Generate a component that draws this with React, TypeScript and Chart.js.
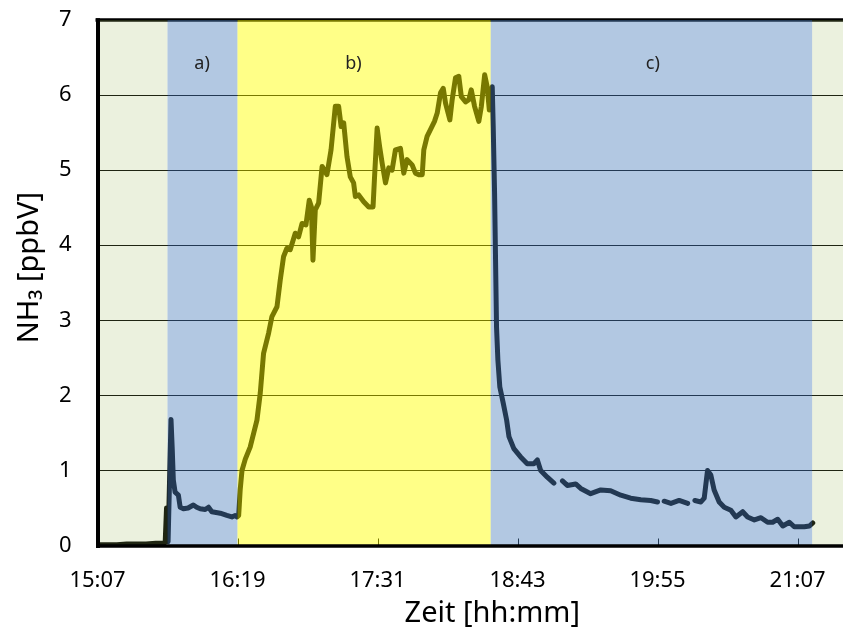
import React, { useEffect, useRef } from 'react';
import { Chart, registerables } from 'chart.js';

Chart.register(...registerables);

// time axis: minutes after 15:07
const START_MIN = 15 * 60 + 7;
const tickMinutes = [0, 72, 144, 216, 288, 360];
const X_MAX = 406;
const Y_MAX = 7;

// measurement (minutes after 15:07) and NH3 mixing ratio [ppbV]; null = gap
const tMin = [
  0.5, 5, 10, 15, 20, 25, 30, 33, 34.8, 35.5, 36.3,
  37.8, 38.4, 39.0, 39.9, 41.6, 42.5, 44.2, 46.6, 49.3, 51.0, 52.8, 55.4, 57.1, 58.8, 61.0, 63.1, 66.5, 69.1, 70.8, 71.8,
  72.6, 73.4, 74.3, 76.0, 78.5, 82.0, 83.7, 85.4, 88.0, 89.7, 92.3, 94.0, 95.7, 97.4, 99.1, 101.7, 103.4, 105.2, 107.2,
  108.9, 110.0, 110.8, 112.0, 113.7, 115.5, 118.0, 120.1, 122.3, 124.0, 125.3, 126.6, 128.3, 130.0, 131.7, 132.6, 134.3,
  136.9, 139.5, 141.7, 142.4, 143.8, 145.1, 146.4, 148.1, 149.8, 151.5, 153.2, 155.8, 157.5, 159.2, 161.8, 163.5, 165.2,
  167.0, 167.8, 169.5, 171.6, 173.3, 174.7, 176.4, 177.8, 179.0, 181.2, 182.4, 184.1, 185.8, 187.1, 189.3, 191.0, 192.2,
  193.9, 196.1, 197.4, 199.1, 200.4, 201.5, 202.1,
  203.0, 203.5, 204.2, 204.7, 205.2, 205.9, 206.9, 208.7, 210.4, 211.6, 214.1, 217.6, 221.0, 224.4, 226.2, 227.9, 231.3,
  234.7, 236.5, 239.1, 241.6, 245.9, 248.5, 253.6, 258.8, 263.9, 269.1, 274.2, 279.4, 284.5, 288.0, 289.5, 291.4, 294.9,
  299.1, 303.5, 305.0, 307.2, 310.3, 312.0, 313.7, 315.4, 317.1, 319.7, 322.3, 325.7, 328.3, 331.8, 334.3, 337.8, 341.2,
  344.6, 347.2, 349.8, 352.4, 355.8, 358.3, 363.5, 366.1, 367.8,
];
const nh3 = [
  0.01, 0.01, 0.01, 0.02, 0.02, 0.02, 0.03, 0.03, 0.04, 0.5, 0.05,
  1.68, 1.31, 0.87, 0.71, 0.67, 0.51, 0.49, 0.50, 0.54, 0.51, 0.49, 0.48, 0.51, 0.45, 0.44, 0.43, 0.40, 0.38, 0.40, 0.38,
  0.40, 0.75, 1.0, 1.15, 1.31, 1.67, 2.03, 2.56, 2.83, 3.05, 3.18, 3.54, 3.85, 3.96, 3.94, 4.16, 4.11, 4.29, 4.27,
  4.60, 4.51, 3.80, 4.47, 4.56, 5.05, 4.94, 5.27, 5.85, 5.85, 5.58, 5.63, 5.18, 4.91, 4.83, 4.65, 4.67,
  4.58, 4.51, 4.51, 4.87, 5.56, 5.31, 5.09, 4.83, 5.03, 5.00, 5.27, 5.29, 4.96, 5.14, 5.07, 4.96, 4.94,
  4.94, 5.27, 5.45, 5.56, 5.65, 5.76, 6.03, 6.09, 5.89, 5.67, 5.94, 6.23, 6.25, 5.98, 5.91, 5.94, 6.07,
  5.85, 5.65, 5.85, 6.27, 6.11, 5.80, 5.94,
  6.11, 5.58, 4.69, 3.80, 2.91, 2.47, 2.11, 1.89, 1.67, 1.45, 1.29, 1.18, 1.09, 1.09, 1.14, 1.00, 0.91,
  0.83, null, 0.86, 0.80, 0.82, 0.76, 0.69, 0.74, 0.73, 0.67, 0.63, 0.61, 0.60, 0.58, null, 0.59, 0.56,
  0.60, 0.56, null, 0.60, 0.58, 0.63, 1.00, 0.94, 0.74, 0.58, 0.51, 0.47, 0.38, 0.45, 0.38, 0.34, 0.37,
  0.31, 0.31, 0.35, 0.26, 0.31, 0.25, 0.25, 0.26, 0.30,
];

// measurement phases (shaded backgrounds)
const phaseStart = [0, 36, 72, 202.2, 367.5];
const phaseEnd = [36, 72, 202.2, 367.5, X_MAX];
const phaseFill = [
  'rgba(155,187,89,0.2)',
  'rgba(79,129,189,0.44)',
  'rgba(255,255,0,0.47)',
  'rgba(79,129,189,0.44)',
  'rgba(155,187,89,0.2)',
];
const phaseLabels = ['', 'a)', 'b)', 'c)', ''];
const phaseLabelX = [0, 53.8, 131.6, 285.6, 0];
const PHASE_LABEL_Y = 6.42;

const FONT = "'Noto Sans', 'DejaVu Sans', sans-serif";

function fmtTime(m: number): string {
  const t = START_MIN + m;
  const h = Math.floor(t / 60);
  const mm = Math.round(t % 60);
  return `${h}:${mm < 10 ? '0' : ''}${mm}`;
}

const phasePlugin = {
  id: 'phases',
  beforeDatasetsDraw(chart: any) {
    const { ctx, chartArea: a, scales } = chart;
    const x = scales.x;
    ctx.save();
    ctx.strokeStyle = '#000';
    ctx.lineWidth = 1;
    tickMinutes.forEach((m) => {
      const px = Math.round(x.getPixelForValue(m)) + 0.5;
      ctx.beginPath();
      ctx.moveTo(px, a.bottom);
      ctx.lineTo(px, a.bottom - 7);
      ctx.stroke();
    });
    ctx.lineWidth = 3.5;
    ctx.beginPath();
    ctx.moveTo(a.left - 2, a.top);
    ctx.lineTo(a.right, a.top);
    ctx.stroke();
    ctx.restore();
  },
  afterDatasetsDraw(chart: any) {
    const { ctx, chartArea: a, scales } = chart;
    const x = scales.x;
    const y = scales.y;
    ctx.save();
    ctx.beginPath();
    ctx.rect(a.left, a.top, a.right - a.left, a.bottom - a.top);
    ctx.clip();
    phaseStart.forEach((s, i) => {
      const x0 = x.getPixelForValue(s);
      const x1 = x.getPixelForValue(phaseEnd[i]);
      ctx.fillStyle = phaseFill[i];
      ctx.fillRect(x0, a.top, x1 - x0, a.bottom - a.top);
    });
    ctx.restore();

    ctx.save();
    ctx.strokeStyle = '#000';
    ctx.lineWidth = 4;
    ctx.beginPath();
    ctx.moveTo(a.left + 0.5, a.top - 1.75);
    ctx.lineTo(a.left + 0.5, a.bottom + 2.5);
    ctx.stroke();
    ctx.lineWidth = 3.5;
    ctx.beginPath();
    ctx.moveTo(a.left - 1.5, a.bottom + 0.5);
    ctx.lineTo(a.right, a.bottom + 0.5);
    ctx.stroke();

    ctx.fillStyle = '#222';
    ctx.font = `18px ${FONT}`;
    ctx.textAlign = 'center';
    ctx.textBaseline = 'middle';
    phaseLabels.forEach((lab, i) => {
      if (!lab) return;
      ctx.fillText(lab, x.getPixelForValue(phaseLabelX[i]), y.getPixelForValue(PHASE_LABEL_Y));
    });
    ctx.restore();
  },
};

export default function App() {
  const canvasRef = useRef<HTMLCanvasElement | null>(null);

  useEffect(() => {
    const canvas = canvasRef.current;
    if (!canvas) return;
    const points = tMin.map((t, i) => ({ x: t, y: nh3[i] }));
    const chart = new Chart(canvas, {
      type: 'line',
      data: {
        datasets: [
          {
            label: 'NH3',
            data: points as any,
            borderColor: '#000',
            borderWidth: 5,
            pointRadius: 0,
            tension: 0,
            fill: false,
            spanGaps: false,
            borderCapStyle: 'round',
            borderJoinStyle: 'round',
          },
        ],
      },
      options: {
        responsive: false,
        animation: false,
        devicePixelRatio: 1,
        layout: { padding: { top: 20, right: 13, left: 0, bottom: 0 } },
        plugins: { legend: { display: false }, tooltip: { enabled: false } },
        scales: {
          x: {
            type: 'linear',
            min: 0,
            max: X_MAX,
            afterFit: (s: any) => {
              s.height = 87.5;
              s.paddingLeft = 0;
              s.paddingRight = 0;
            },
            afterBuildTicks: (s: any) => { s.ticks = tickMinutes.map((v) => ({ value: v })); },
            ticks: {
              includeBounds: false,
              padding: 22,
              color: '#000',
              font: { family: FONT, size: 22 },
              maxRotation: 0,
              autoSkip: false,
              callback: (v: any) => fmtTime(Number(v)),
            },
            grid: { display: false, drawTicks: false },
            border: { display: false },
            title: {
              display: true,
              text: 'Zeit [hh:mm]',
              color: '#000',
              font: { family: FONT, size: 29 },
              padding: { top: 0, bottom: 2 },
            },
          },
          y: {
            type: 'linear',
            min: 0,
            max: Y_MAX,
            afterFit: (s: any) => {
              s.width = 97.5;
              s.paddingTop = 0;
              s.paddingBottom = 0;
            },
            ticks: {
              stepSize: 1,
              padding: 26,
              color: '#000',
              font: { family: FONT, size: 22 },
            },
            grid: { color: '#000', lineWidth: 1, drawTicks: false },
            border: { display: false },
            title: {
              display: true,
              text: '    NH₃ [ppbV]',
              color: '#000',
              font: { family: FONT, size: 29 },
              padding: { top: 12, bottom: 0 },
            },
          },
        },
      },
      plugins: [phasePlugin],
    });
    return () => chart.destroy();
  }, []);

  return (
    <div style={{ position: 'absolute', left: 0, top: 0, width: 843, height: 633, overflow: 'hidden', background: '#fff' }}>
      <canvas ref={canvasRef} width={900} height={633} style={{ display: 'block', width: 900, height: 633 }} />
    </div>
  );
}
